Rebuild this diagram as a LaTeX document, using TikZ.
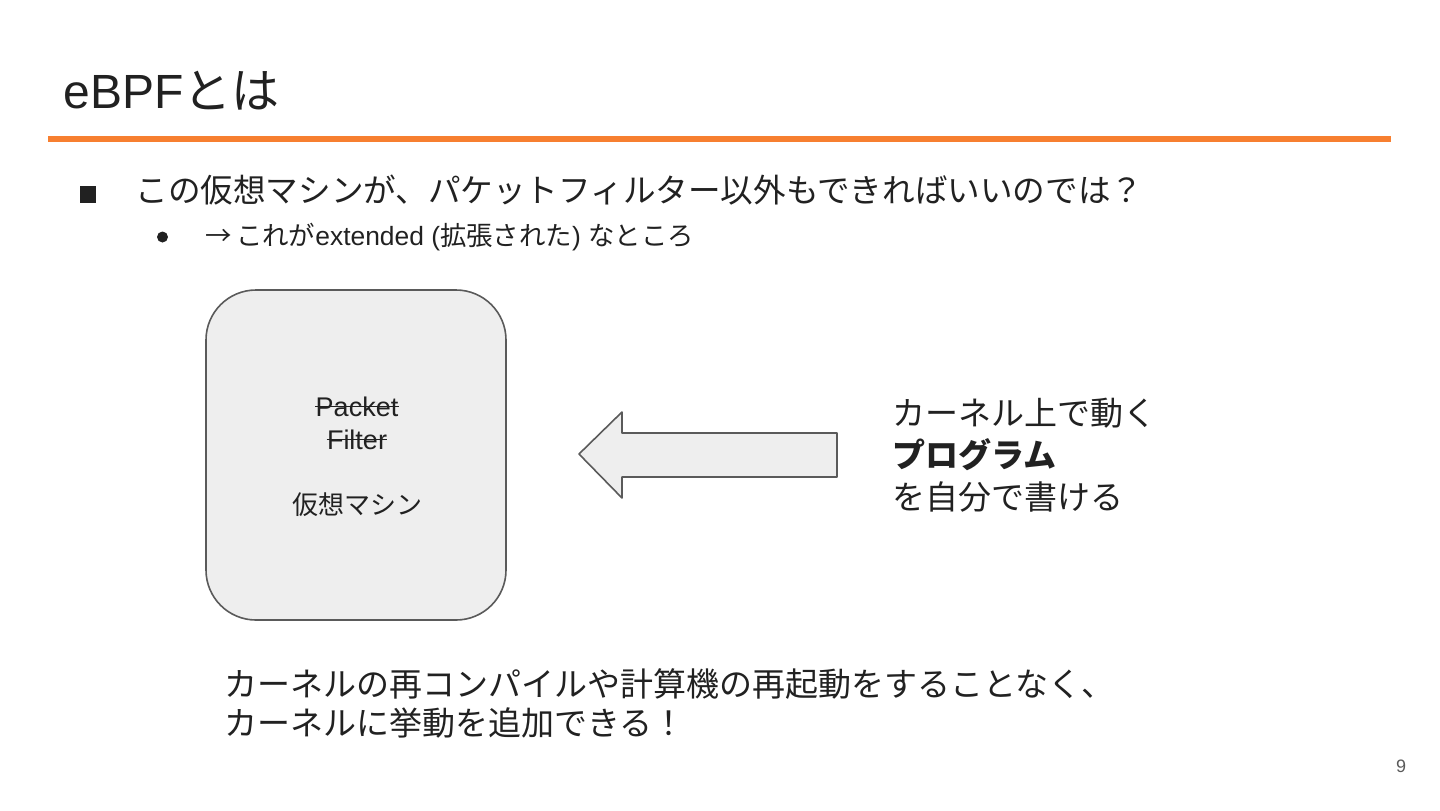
\documentclass[tikz,border=0pt]{standalone}
\usepackage{fontspec}
\setmainfont{Liberation Sans}
\newfontfamily\jp{Noto Sans CJK JP}
\definecolor{barorange}{RGB}{247,127,48}
\definecolor{vmgray}{RGB}{238,238,238}
\definecolor{edgegray}{RGB}{90,90,90}
\definecolor{inkblack}{RGB}{33,33,33}

\begin{document}
\begin{tikzpicture}[x=0.5pt, y=-0.5pt, line join=round,
  txt/.style={anchor=west, inner sep=0pt, text=inkblack},
  bigtxt/.style={txt, font=\fontsize{16.5}{21}\selectfont\jp, align=left},
  struck/.style={inner sep=0pt, text=inkblack, font=\fontsize{13.5}{16.5}\selectfont}]
\useasboundingbox (0,0) rectangle (1440,810);
% title and bar
\node[txt, anchor=base west](title) at (63,108){\fontsize{24}{28}\selectfont eBPF{\jp とは}};
\draw[barorange, line width=3pt](48,139)--(1391,139);
% bullets
\node[fill=inkblack, minimum width=8pt, minimum height=8.5pt, inner sep=0pt](sq) at (88,194.5){};
\node[txt](b1) at (135,190){\fontsize{16.3}{19}\selectfont\jp この仮想マシンが、パケットフィルター以外もできればいいのでは？};
\node[circle, fill=inkblack, minimum size=5.5pt, inner sep=0pt](dot) at (162.5,237){};
\node[txt](b2) at (205,237){\fontsize{13.2}{15}\selectfont{\jp →}\,{\jp これが}extended ({\jp 拡張された}) {\jp なところ}};
% virtual machine box
\draw[edgegray, fill=vmgray, line width=0.8pt, rounded corners=25pt](206,290) rectangle (506,620);
\node[struck, anchor=base](pk) at (357,416){Packet};
\node[struck, anchor=base](fl) at (357,449){Filter};
\draw[inkblack, line width=0.7pt](pk.west)--(pk.east);
\draw[inkblack, line width=0.7pt](fl.west)--(fl.east);
\node[inner sep=0pt, text=inkblack, font=\fontsize{13}{16}\selectfont\jp](vm) at (357,505){仮想マシン};
% big arrow
\draw[edgegray, fill=vmgray, line width=0.8pt](837,433)--(622,433)--(622,412)--(579,454)--(622,498)--(622,477)--(837,477)--cycle;
% right text
\node[bigtxt](prog) at (892,455){カーネル上で動く\\\textbf{プログラム}\\を自分で書ける};
% bottom text
\node[bigtxt, font=\fontsize{16.5}{19.5}\selectfont\jp](note) at (224,703){カーネルの再コンパイルや計算機の再起動をすることなく、\\カーネルに挙動を追加できる！};
\node[text=edgegray, inner sep=0pt, font=\fontsize{9}{11}\selectfont](pg) at (1401,766){9};
\end{tikzpicture}
\end{document}
